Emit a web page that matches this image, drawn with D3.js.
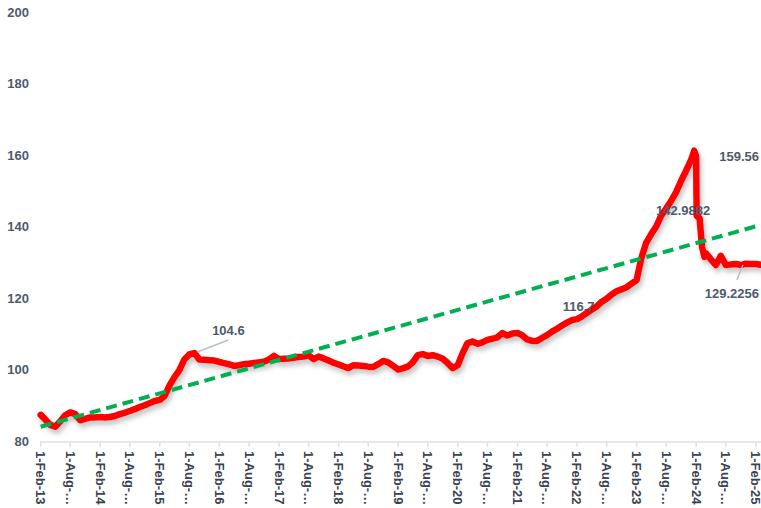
<!DOCTYPE html>
<html>
<head>
<meta charset="utf-8">
<script src="https://cdn.jsdelivr.net/npm/d3@7"></script>
<style>
  body { margin: 0; background: #fff; }
  text { font-family: "Liberation Sans", Arial, sans-serif; font-weight: bold; }
</style>
</head>
<body>
<div id="chart"></div>
<script>
// monthly values, Feb-13 .. Jan-24
var monthlyStart = "2013-02-01";
var monthlyValues = [
  87.3, 86.0, 84.5, 84.0, 85.5, 87.2, 88.0, 87.5, 85.8, 86.2,
  86.6, 86.6, 86.7, 86.6, 86.7, 87.0, 87.5, 87.9, 88.4, 88.9,
  89.5, 90.0, 90.6, 91.2, 91.5, 92.5, 95.5, 97.8, 99.8, 102.8,
  104.2, 104.6, 102.8, 102.7, 102.6, 102.5, 102.1, 101.8, 101.4, 101.0,
  101.2, 101.5, 101.6, 101.8, 102.0, 102.2, 102.8, 103.8, 102.9, 103.0,
  103.1, 103.3, 103.5, 103.6, 104.0, 102.9, 103.6, 103.1, 102.5, 101.9,
  101.4, 100.9, 100.4, 101.2, 101.1, 101.0, 100.8, 100.7, 101.5, 102.4,
  102.0, 101.0, 100.0, 100.3, 100.8, 102.0, 104.0, 104.3, 103.8, 104.0,
  103.6, 103.0, 101.8, 100.4, 101.2, 104.5, 107.4, 107.8, 107.2, 107.6,
  108.3, 108.6, 109.0, 110.2, 109.5, 110.1, 110.2, 109.6, 108.4, 108.0,
  108.0, 108.8, 109.6, 110.6, 111.4, 112.3, 113.1, 113.8, 114.1, 114.8,
  115.8, 116.7, 117.6, 118.9, 119.8, 121.0, 121.9, 122.4, 123.0, 124.0,
  125.0, 131.0, 135.5, 137.8, 140.0, 142.9882, 145.0, 147.2, 149.6, 152.8,
  155.6, 158.6
];
// the peak and the sharp fall in early 2024
var peakDates  = ["2024-01-20", "2024-02-01", "2024-02-04", "2024-02-22", "2024-03-08", "2024-03-22"];
var peakValues = [161.2, 159.56, 143.0, 142.3, 134.3, 131.5];
// monthly again, Apr-24 .. Mar-25
var lateStart = "2024-04-01";
var lateValues = [132.5, 130.8, 129.2, 131.8, 129.2, 129.4, 129.5, 129.2256, 129.6, 129.5, 129.5, 129.3];

// trend line, value at first and last date
var trendValues = [84.0, 140.4];

var yTicks = [80, 100, 120, 140, 160, 180, 200];
var xTickDates = ["2013-02-01","2013-08-01","2014-02-01","2014-08-01","2015-02-01","2015-08-01",
  "2016-02-01","2016-08-01","2017-02-01","2017-08-01","2018-02-01","2018-08-01","2019-02-01",
  "2019-08-01","2020-02-01","2020-08-01","2021-02-01","2021-08-01","2022-02-01","2022-08-01",
  "2023-02-01","2023-08-01","2024-02-01","2024-08-01","2025-02-01"];
var xTickLabels = ["1-Feb-13","1-Aug-…","1-Feb-14","1-Aug-…","1-Feb-15","1-Aug-…",
  "1-Feb-16","1-Aug-…","1-Feb-17","1-Aug-…","1-Feb-18","1-Aug-…","1-Feb-19",
  "1-Aug-…","1-Feb-20","1-Aug-…","1-Feb-21","1-Aug-…","1-Feb-22","1-Aug-…",
  "1-Feb-23","1-Aug-…","1-Feb-24","1-Aug-…","1-Feb-25"];

// labelled points
var labelDates = ["2015-09-01", "2022-05-01", "2023-07-01", "2024-02-01", "2024-11-01"];

var parse = d3.timeParse("%Y-%m-%d");
var data = [];
monthlyValues.forEach(function(v, i) {
  data.push({date: d3.timeMonth.offset(parse(monthlyStart), i), value: v});
});
peakDates.forEach(function(d, i) { data.push({date: parse(d), value: peakValues[i]}); });
lateValues.forEach(function(v, i) {
  data.push({date: d3.timeMonth.offset(parse(lateStart), i), value: v});
});

var w = 761, h = 508;
var svg = d3.select("#chart").append("svg").attr("width", w).attr("height", h);

var x = d3.scaleTime()
  .domain([parse("2013-02-01"), parse("2025-02-01")])
  .range([40.7, 755.9]);
var y = d3.scaleLinear().domain([80, 200]).range([441, 12]);

var defs = svg.append("defs");
var f = defs.append("filter").attr("id", "shadow")
  .attr("x", "-5%").attr("y", "-10%").attr("width", "110%").attr("height", "130%");
f.append("feDropShadow").attr("dx", 2).attr("dy", 4).attr("stdDeviation", 2.5)
  .attr("flood-color", "#555").attr("flood-opacity", 0.35);

// y axis labels
svg.selectAll(".ylab").data(yTicks).enter().append("text")
  .attr("x", 29).attr("y", function(d) { return y(d); })
  .attr("dy", "0.35em").attr("text-anchor", "end")
  .attr("font-size", 13).attr("fill", "#4d5a6e")
  .text(function(d) { return d; });

// x axis
svg.append("line").attr("x1", 40).attr("x2", 761).attr("y1", 442).attr("y2", 442)
  .attr("stroke", "#dde2ea").attr("stroke-width", 1.5);
var xt = svg.selectAll(".xt").data(xTickDates).enter().append("g")
  .attr("transform", function(d) { return "translate(" + x(parse(d)) + ",442)"; });
xt.append("line").attr("y1", 0).attr("y2", 5).attr("stroke", "#dde2ea").attr("stroke-width", 1.5);
xt.append("text")
  .attr("transform", "translate(0,9) rotate(90)")
  .attr("dy", "0.35em").attr("font-size", 13).attr("fill", "#3a4150")
  .text(function(d, i) { return xTickLabels[i]; });

// series
var line = d3.line().x(function(d) { return x(d.date); }).y(function(d) { return y(d.value); });
svg.append("path").datum(data)
  .attr("d", line).attr("fill", "none")
  .attr("stroke", "#ff0000").attr("stroke-width", 6.5)
  .attr("stroke-linejoin", "round").attr("stroke-linecap", "round")
  .attr("filter", "url(#shadow)");

// linear trend
var t0 = data[0].date, t1 = data[data.length - 1].date;
svg.append("line")
  .attr("x1", x(t0)).attr("y1", y(trendValues[0]))
  .attr("x2", x(t1)).attr("y2", y(trendValues[1]))
  .attr("stroke", "#00b050").attr("stroke-width", 4)
  .attr("stroke-dasharray", "11,6");

// data labels
var offs = [
  {dx: 34, dy: -18, lead: [3, -1, 34, -13]},
  {dx: -13, dy: 1, lead: null},
  {dx: 22, dy: -1, lead: null},
  {dx: 43, dy: 4, lead: null},
  {dx: -9, dy: 33, lead: [2, 0, -4, 15]}
];
labelDates.forEach(function(ds, i) {
  var p = data.find(function(d) { return +d.date === +parse(ds); });
  var px = x(p.date), py = y(p.value), o = offs[i];
  if (o.lead) {
    svg.append("line")
      .attr("x1", px + o.lead[0]).attr("y1", py + o.lead[1])
      .attr("x2", px + o.lead[2]).attr("y2", py + o.lead[3])
      .attr("stroke", "#b4bfd0").attr("stroke-width", 1.5);
  }
  svg.append("text")
    .attr("x", px + o.dx).attr("y", py + o.dy)
    .attr("text-anchor", "middle").attr("font-size", 13).attr("fill", "#4d5a6e")
    .text(p.value);
});
</script>
</body>
</html>
